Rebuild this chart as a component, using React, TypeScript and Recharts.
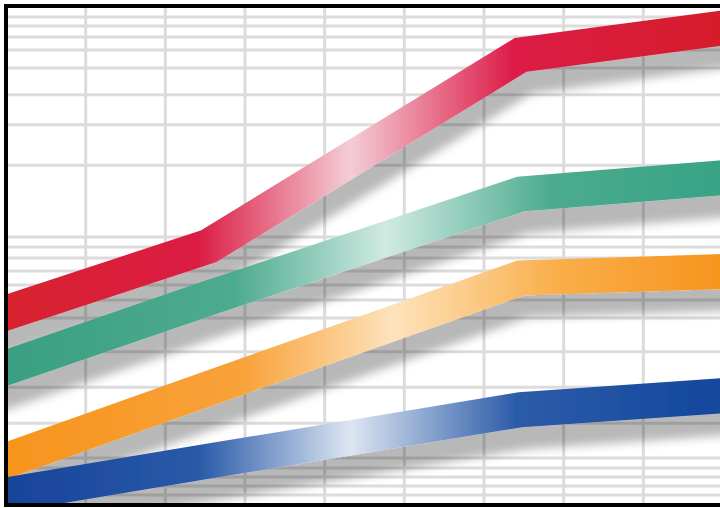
import React from 'react';
import { LineChart, Line, XAxis, YAxis, CartesianGrid, ReferenceLine } from 'recharts';

// positions along the x axis where the ribbons bend
const xPoints = [0, 2.55, 6.46, 9];

// ribbon values (0..100 scale)
const redValues = [38.5, 51.9, 90.2, 95.6];
const greenValues = [27.5, 41.5, 62.3, 65.6];
const orangeValues = [8.9, 23.4, 45.5, 46.8];
const blueValues = [2.0, 8.8, 19.1, 21.9];

// grid ticks
const gridX = [1, 2, 3, 4, 5, 6, 7, 8];
const gridY = [
  2.0, 3.8, 5.6, 7.4, 9.4, 16.4, 23.6, 30.7, 37.5, 41.1, 44.1, 46.9, 49.5,
  51.7, 53.7, 68.1, 76.2, 82.2, 87.6, 91.2, 93.8, 96.0, 97.8,
];

const X_DOMAIN: [number, number] = [0, 9];
const Y_DOMAIN: [number, number] = [0, 100];

const data = xPoints.map((x, i) => ({
  x,
  red: redValues[i],
  green: greenValues[i],
  orange: orangeValues[i],
  blue: blueValues[i],
}));

const ribbons = [
  { key: 'red', stops: ['#d8202e', '#dc1f45', '#f4cdd6', '#dc1a46', '#d61f2a'], mid: 0.48 },
  { key: 'green', stops: ['#3a9f82', '#4eab8f', '#d0eae2', '#4cab8e', '#38a385'], mid: 0.53 },
  { key: 'orange', stops: ['#f7941d', '#f8a23a', '#fde3bc', '#f9ae4a', '#f7941d'], mid: 0.54 },
  { key: 'blue', stops: ['#17449a', '#2a5aa8', '#dde6f2', '#2c5ca9', '#13479c'], mid: 0.48 },
];

// grid positions from the axis scale (falls back to the plot box if no scale is handed in)
const horizontalGrid = ({ yAxis, offset }: any) =>
  gridY.map((v) =>
    yAxis && typeof yAxis.scale === 'function'
      ? yAxis.scale(v)
      : offset.top + offset.height * (1 - (v - Y_DOMAIN[0]) / (Y_DOMAIN[1] - Y_DOMAIN[0]))
  );

const verticalGrid = ({ xAxis, offset }: any) =>
  gridX.map((v) =>
    xAxis && typeof xAxis.scale === 'function'
      ? xAxis.scale(v)
      : offset.left + offset.width * ((v - X_DOMAIN[0]) / (X_DOMAIN[1] - X_DOMAIN[0]))
  );

export default function App() {
  return (
    <div
      style={{
        position: 'absolute',
        left: 0,
        top: 0,
        width: 720,
        height: 508,
        overflow: 'hidden',
        background: '#fff',
      }}
    >
      <LineChart
        width={724}
        height={508}
        data={data}
        margin={{ top: 6, right: 1, bottom: 3, left: 6 }}
      >
        <defs>
          <filter
            id="bandShadow"
            filterUnits="userSpaceOnUse"
            x="-50"
            y="-50"
            width="900"
            height="700"
          >
            <feDropShadow dx="5" dy="22" stdDeviation="5" floodColor="#000" floodOpacity="0.28" />
          </filter>
          {ribbons.map((r) => (
            <linearGradient key={r.key} id={`grad-${r.key}`} x1="0" y1="0" x2="1" y2="0">
              <stop offset="0%" stopColor={r.stops[0]} />
              <stop offset={`${(r.mid - 0.21) * 100}%`} stopColor={r.stops[1]} />
              <stop offset={`${r.mid * 100}%`} stopColor={r.stops[2]} />
              <stop offset={`${(r.mid + 0.23) * 100}%`} stopColor={r.stops[3]} />
              <stop offset="100%" stopColor={r.stops[4]} />
            </linearGradient>
          ))}
        </defs>
        <XAxis dataKey="x" type="number" domain={X_DOMAIN} ticks={gridX} allowDataOverflow hide />
        <YAxis type="number" domain={Y_DOMAIN} ticks={gridY} allowDataOverflow hide />
        <CartesianGrid
          stroke="#dcdcdc"
          strokeWidth={3}
          horizontalCoordinatesGenerator={horizontalGrid}
          verticalCoordinatesGenerator={verticalGrid}
        />
        {ribbons.map((r) => (
          <Line
            key={r.key}
            type="linear"
            dataKey={r.key}
            stroke={`url(#grad-${r.key})`}
            strokeWidth={35}
            strokeLinecap="square"
            strokeLinejoin="miter"
            filter="url(#bandShadow)"
            dot={false}
            activeDot={false}
            isAnimationActive={false}
          />
        ))}
        {/* black frame: left, top, bottom */}
        <ReferenceLine x={0} stroke="#000" strokeWidth={4} strokeLinecap="square" />
        <ReferenceLine y={100} stroke="#000" strokeWidth={4} strokeLinecap="square" />
        <ReferenceLine y={0} stroke="#000" strokeWidth={4} strokeLinecap="square" />
      </LineChart>
    </div>
  );
}
